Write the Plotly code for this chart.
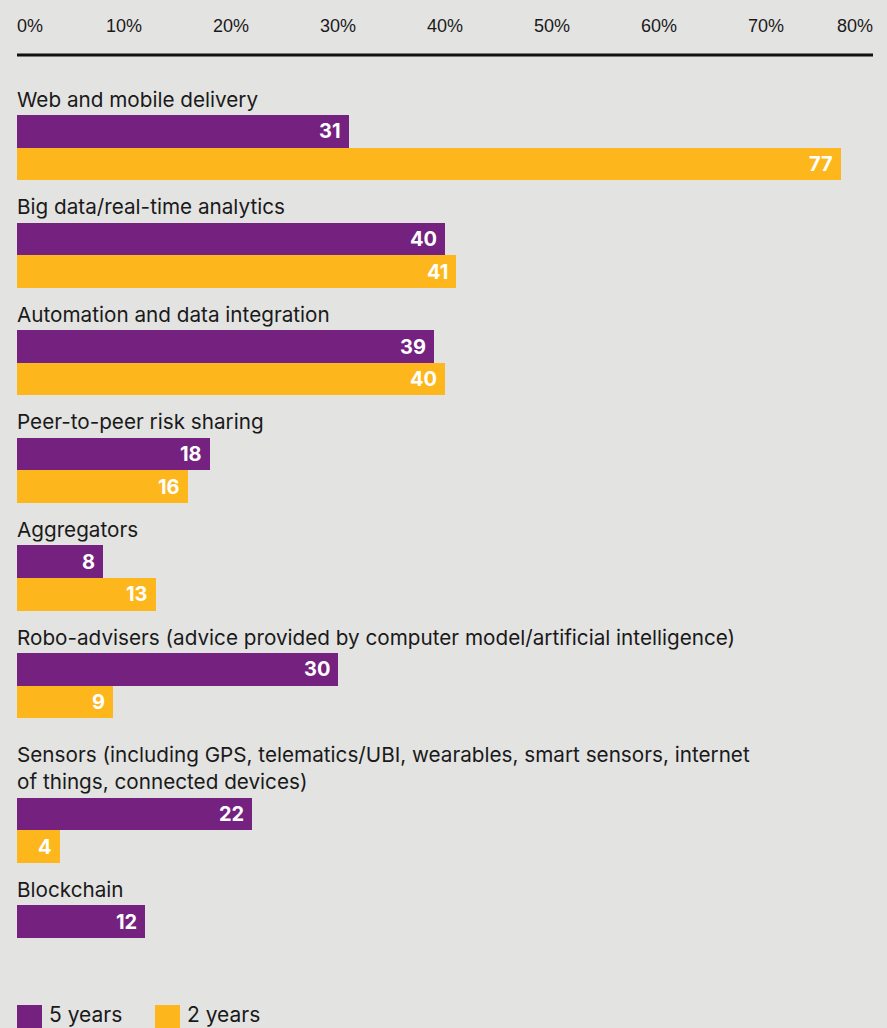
import plotly.graph_objects as go

# Survey data: share of respondents (%) by technology and time horizon
categories = [
    "Web and mobile delivery",
    "Big data/real-time analytics",
    "Automation and data integration",
    "Peer-to-peer risk sharing",
    "Aggregators",
    "Robo-advisers (advice provided by computer model/artificial intelligence)",
    "Sensors (including GPS, telematics/UBI, wearables, smart sensors, internet<br>of things, connected devices)",
    "Blockchain",
]
five_years = [31, 40, 39, 18, 8, 30, 22, 12]
two_years = [77, 41, 40, 16, 13, 9, 4, None]
tick_values = [0, 10, 20, 30, 40, 50, 60, 70, 80]
tick_labels = ["0%", "10%", "20%", "30%", "40%", "50%", "60%", "70%", "80%"]
series_names = ["5 years", "2 years"]

PURPLE = "#74217F"
YELLOW = "#FDB71C"
BG = "#E3E3E2"
INK = "#1A1A1A"
FONT = "Inter, Liberation Sans, Arial, sans-serif"
TICK_FONT = "Liberation Sans, Arial, sans-serif"

W, H = 887, 1028
X0_PX, X1_PX = 17, 873

# vertical layout (y axis runs in pixel units, top = 0)
first_top = 115.0
pitch = 107.6
extra_line = 37.0
bar_h = 32.6

tops = []
t = first_top
for i, c in enumerate(categories):
    n_lines = c.count("<br>") + 1
    if i > 0:
        t += pitch + (n_lines - 1) * extra_line
    tops.append(t)

y5 = [tp + bar_h / 2 for tp in tops]
y2 = [tp + bar_h * 1.5 for tp in tops]

fig = go.Figure()
fig.add_trace(go.Bar(
    x=five_years, y=y5, orientation="h", width=bar_h,
    marker=dict(color=PURPLE, line=dict(width=0)), name=series_names[0],
    showlegend=False, hoverinfo="x",
))
fig.add_trace(go.Bar(
    x=two_years, y=y2, orientation="h", width=bar_h,
    marker=dict(color=YELLOW, line=dict(width=0)), name=series_names[1],
    showlegend=False, hoverinfo="x",
))

annotations = []
shapes = []

# category labels above each pair of bars
for c, tp in zip(categories, tops):
    annotations.append(dict(
        x=0, y=tp - 1.5, xref="x", yref="y", text=c, showarrow=False,
        xanchor="left", yanchor="bottom", align="left", xshift=-2,
        font=dict(family=FONT, size=20.7, color=INK),
    ))

# value labels at the inner end of each bar
for vals, ys in ((five_years, y5), (two_years, y2)):
    for v, yy in zip(vals, ys):
        if v is None:
            continue
        annotations.append(dict(
            x=v, y=yy, xref="x", yref="y", text=f"<b>{v}</b>", showarrow=False,
            xanchor="right", yanchor="middle", xshift=-6,
            font=dict(family=FONT, size=20, color="white"),
        ))

# top scale labels
for i, (tv, tl) in enumerate(zip(tick_values, tick_labels)):
    anchor = "left" if i == 0 else ("right" if i == len(tick_values) - 1 else "center")
    annotations.append(dict(
        x=tv, y=26, xref="x", yref="y", text=tl, showarrow=False,
        xanchor=anchor, yanchor="middle",
        xshift=-2 if i == 0 else (2 if i == len(tick_values) - 1 else 0),
        font=dict(family=TICK_FONT, size=18, color=INK),
    ))

# scale baseline
shapes.append(dict(
    type="line", xref="x", yref="y", x0=tick_values[0], x1=tick_values[-1],
    y0=55, y1=55, line=dict(color="#111111", width=3),
))

# legend
legend_y = 1014
legend_items = [(series_names[0], PURPLE, 17), (series_names[1], YELLOW, 155)]
for name, col, px in legend_items:
    shapes.append(dict(
        type="rect", xref="paper", yref="y",
        x0=px / W, x1=(px + 25) / W, y0=1005, y1=1030,
        fillcolor=col, line=dict(width=0),
    ))
    annotations.append(dict(
        x=(px + 30) / W, y=legend_y, xref="paper", yref="y", text=name,
        showarrow=False, xanchor="left", yanchor="middle",
        font=dict(family=FONT, size=21, color=INK),
    ))

fig.update_layout(
    width=W, height=H,
    margin=dict(l=0, r=0, t=0, b=0),
    paper_bgcolor=BG, plot_bgcolor=BG,
    barmode="overlay", bargap=0,
    xaxis=dict(range=[0, 80], domain=[X0_PX / W, X1_PX / W], visible=False,
               fixedrange=True),
    yaxis=dict(range=[H, 0], domain=[0, 1], visible=False, fixedrange=True),
    annotations=annotations,
    shapes=shapes,
    showlegend=False,
)

fig.write_html("out.html")
